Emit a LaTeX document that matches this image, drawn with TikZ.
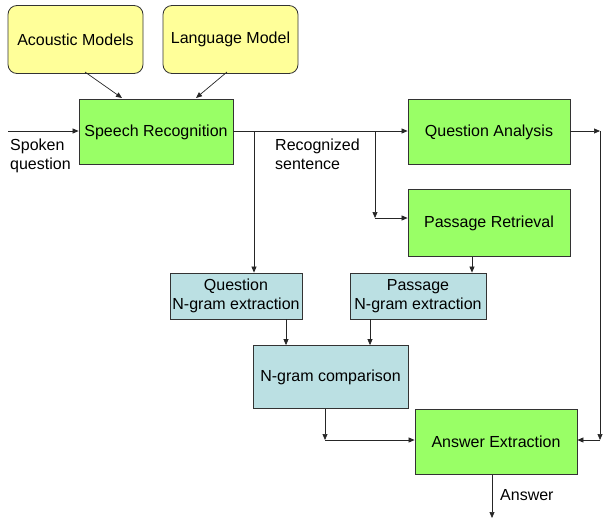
\documentclass[tikz,border=0pt]{standalone}
\usepackage{fontspec}
\setmainfont{Liberation Sans}
\usetikzlibrary{arrows.meta}
\definecolor{ylw}{HTML}{FFFF99}
\definecolor{grn}{HTML}{99FF66}
\definecolor{blu}{HTML}{BBE0E3}
\begin{document}
\begin{tikzpicture}[x=1pt,y=-1pt,
  every node/.style={font=\fontsize{16}{18.5}\selectfont},
  base/.style={draw=black!80, line width=0.8pt, inner sep=0pt, align=center},
  ybox/.style={base, fill=ylw, rounded corners=9pt},
  gbox/.style={base, fill=grn},
  bbox/.style={base, fill=blu},
  lbl/.style={inner sep=0pt, align=left, anchor=north west},
  conn/.style={line width=0.7pt, draw=black!85},
  arr/.style={conn, -{Triangle[length=6pt,width=5pt]}}]
\useasboundingbox (0,0) rectangle (603,520);
\node[ybox, minimum width=135pt, minimum height=68pt] (am) at (75.5,39.5) {Acoustic Models};
\node[ybox, minimum width=135pt, minimum height=68pt] (lm) at (230.5,39.5) {Language Model};
\node[gbox, minimum width=154pt, minimum height=65pt] (sr) at (156,132) {Speech Recognition};
\node[gbox, minimum width=162pt, minimum height=65pt] (qa) at (489,132) {Question Analysis};
\node[gbox, minimum width=162pt, minimum height=67pt] (pr) at (489,223) {Passage Retrieval};
\node[bbox, minimum width=132pt, minimum height=46pt] (qn) at (236,296) {Question\\N-gram extraction};
\node[bbox, minimum width=136pt, minimum height=46pt] (pn) at (418,296) {Passage\\N-gram extraction};
\node[bbox, minimum width=155pt, minimum height=63pt] (nc) at (330.5,377) {N-gram comparison};
\node[gbox, minimum width=162pt, minimum height=65pt] (ae) at (496,442) {Answer Extraction};

\node[lbl] (sq) at (10,139) {Spoken\\question};
\node[lbl] (rs) at (275,139) {Recognized\\sentence};
\node[lbl, anchor=west] (an) at (500,495) {Answer};

\coordinate (in) at (8,131);
\coordinate (ja) at (254,131);
\coordinate (jb) at (375,131);
\coordinate (jc) at (375,218);
\coordinate (r1) at (600,131);
\coordinate (r2) at (600,440);
\coordinate (c1) at (325,440);
\coordinate (out) at (492,518);

\draw[arr] (85,72) -- (122,98);
\draw[arr] (227,72) -- (196,98);
\draw[arr] (in) -- (sr.west |- in);
\draw[arr] (sr.east |- ja) -- (qa.west |- ja);
\draw[arr] (ja) -- (qn.north -| ja);
\draw[arr] (jb) -- (jc);
\draw[arr] (jc) -- (pr.west |- jc);
\draw[arr] (qa.east |- r1) -- (r1);
\draw[arr] (r1) -- (r2);
\draw[arr] (r2) -- (ae.east |- r2);
\draw[arr] (pr.south -| 472,0) -- (pn.north -| 472,0);
\draw[arr] (qn.south -| 286,0) -- (nc.north -| 286,0);
\draw[arr] (pn.south -| 370,0) -- (nc.north -| 370,0);
\draw[arr] (nc.south -| c1) -- (c1);
\draw[arr] (c1) -- (ae.west |- c1);
\draw[arr] (ae.south -| out) -- (out);
\end{tikzpicture}
\end{document}
